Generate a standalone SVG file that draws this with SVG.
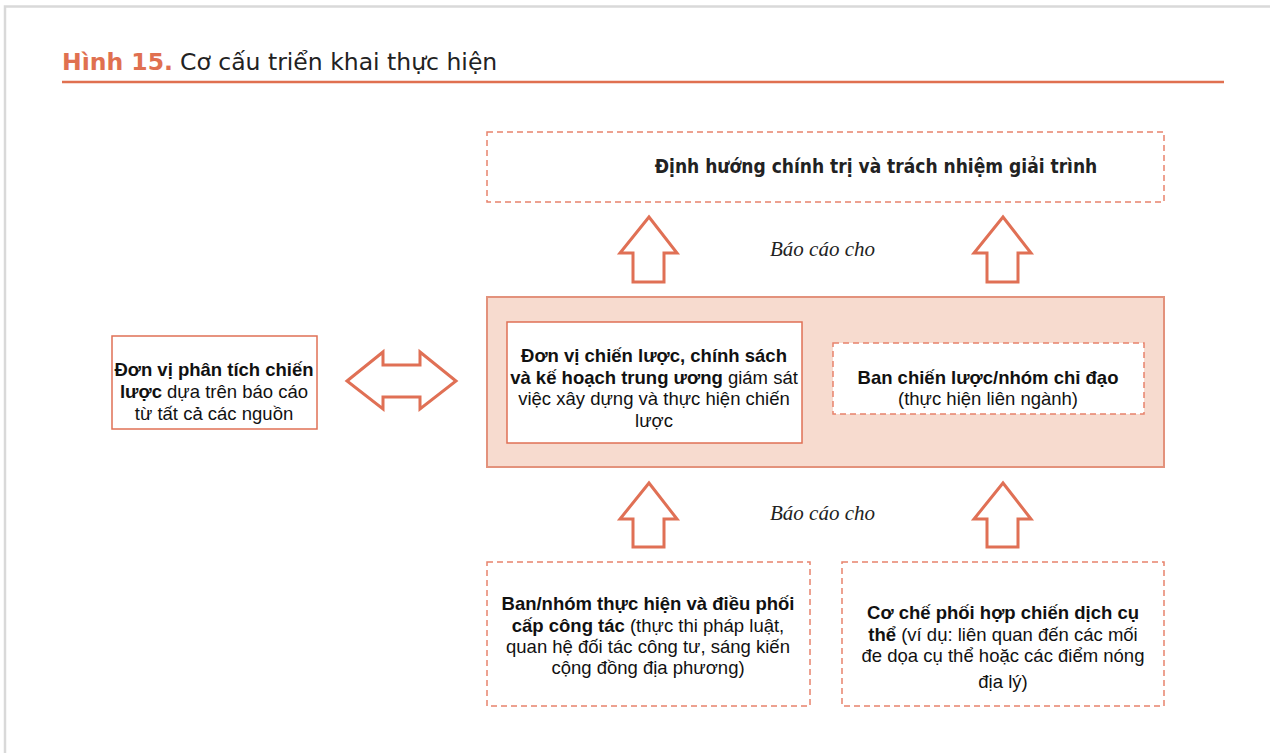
<svg xmlns="http://www.w3.org/2000/svg" width="1270" height="753" viewBox="0 0 1270 753">
  <style>
    .page { fill: #ffffff; }
    .frame { fill: none; stroke: #d9d9d9; stroke-width: 2.5; }
    .title-num { font-family: "DejaVu Sans", Verdana, sans-serif; font-weight: bold; font-size: 23.5px; fill: #e07050; }
    .title-txt { font-family: "DejaVu Sans", Verdana, sans-serif; font-size: 23.5px; fill: #222222; }
    .rule { stroke: #e07050; stroke-width: 2.5; }
    .dashed { fill: #ffffff; stroke: #e8836c; stroke-width: 1.5; stroke-dasharray: 6 4; }
    .solid { fill: #ffffff; stroke: #e07055; stroke-width: 1.5; }
    .hub { fill: #f7dbcf; stroke: #e3927c; stroke-width: 2; }
    .arrow { fill: #ffffff; stroke: #e07055; stroke-width: 3; stroke-linejoin: miter; }
    .head { font-family: "DejaVu Sans Condensed", "DejaVu Sans", Verdana, sans-serif; font-stretch: condensed; font-weight: bold; font-size: 19px; fill: #222222; text-anchor: middle; }
    .body { font-family: "Liberation Sans", Arial, sans-serif; font-size: 18.5px; fill: #111111; text-anchor: middle; }
    .b { font-weight: bold; }
    .note { font-family: "Liberation Serif", "Times New Roman", serif; font-style: italic; font-size: 21px; fill: #222222; }
  </style>

  <rect class="page" x="0" y="0" width="1270" height="753"/>
  <!-- page frame: top and left edges only -->
  <path class="frame" d="M5 753 V6.5 H1270"/>

  <!-- heading -->
  <g id="heading">
    <text x="62" y="70"><tspan class="title-num">Hình 15.</tspan><tspan class="title-txt" dx="7">Cơ cấu triển khai thực hiện</tspan></text>
    <line class="rule" x1="62" y1="82" x2="1224" y2="82"/>
  </g>

  <!-- connectors -->
  <g id="connectors">
    <!-- hub -> top box -->
    <path class="arrow" d="M649 217 L677 253 L664 253 L664 282 L633 282 L633 253 L620 253 Z"/>
    <path class="arrow" d="M1003 217 L1031 253 L1018 253 L1018 282 L987 282 L987 253 L974 253 Z"/>
    <!-- bottom boxes -> hub -->
    <path class="arrow" d="M649 483 L677 519 L664 519 L664 547 L633 547 L633 519 L620 519 Z"/>
    <path class="arrow" d="M1003 483 L1031 519 L1018 519 L1018 547 L987 547 L987 519 L974 519 Z"/>
    <!-- analysis unit <-> hub -->
    <path class="arrow" d="M347 381 L383 352 L383 365 L420 365 L420 352 L456 381 L420 409 L420 397 L383 397 L383 409 Z"/>
    <text class="note" x="770" y="256">Báo cáo cho</text>
    <text class="note" x="770" y="520">Báo cáo cho</text>
  </g>

  <!-- top: political direction -->
  <g id="oversight">
    <rect class="dashed" x="487" y="132" width="677" height="70"/>
    <text class="head" x="876" y="173">Định hướng chính trị và trách nhiệm giải trình</text>
  </g>

  <!-- central hub -->
  <g id="hub">
    <rect class="hub" x="487" y="297" width="677" height="170"/>
  </g>

  <g id="central-unit">
    <rect class="solid" x="507" y="322" width="295" height="121"/>
    <text class="body" x="654" y="362"><tspan class="b">Đơn vị chiến lược, chính sách</tspan></text>
    <text class="body" x="654" y="384"><tspan class="b">và kế hoạch trung ương</tspan> giám sát</text>
    <text class="body" x="654" y="405">việc xây dựng và thực hiện chiến</text>
    <text class="body" x="654" y="427">lược</text>
  </g>

  <g id="steering-group">
    <rect class="dashed" x="833" y="343" width="311" height="71"/>
    <text class="body" x="988" y="384"><tspan class="b">Ban chiến lược/nhóm chỉ đạo</tspan></text>
    <text class="body" x="988" y="405">(thực hiện liên ngành)</text>
  </g>

  <!-- left: analysis unit -->
  <g id="analysis-unit">
    <rect class="solid" x="112" y="336" width="205" height="93"/>
    <text class="body" x="214" y="376"><tspan class="b">Đơn vị phân tích chiến</tspan></text>
    <text class="body" x="214" y="398"><tspan class="b">lược</tspan> dựa trên báo cáo</text>
    <text class="body" x="214" y="420">từ tất cả các nguồn</text>
  </g>

  <!-- bottom: operational teams -->
  <g id="operational-teams">
    <rect class="dashed" x="487" y="562" width="323" height="144"/>
    <text class="body" x="648" y="610"><tspan class="b">Ban/nhóm thực hiện và điều phối</tspan></text>
    <text class="body" x="648" y="632"><tspan class="b">cấp công tác</tspan> (thực thi pháp luật,</text>
    <text class="body" x="648" y="653">quan hệ đối tác công tư, sáng kiến</text>
    <text class="body" x="648" y="674">cộng đồng địa phương)</text>
  </g>

  <g id="campaign-mechanism">
    <rect class="dashed" x="842" y="562" width="322" height="144"/>
    <text class="body" x="1003" y="619"><tspan class="b">Cơ chế phối hợp chiến dịch cụ</tspan></text>
    <text class="body" x="1003" y="641"><tspan class="b">thể</tspan> (ví dụ: liên quan đến các mối</text>
    <text class="body" x="1003" y="662">đe dọa cụ thể hoặc các điểm nóng</text>
    <text class="body" x="1003" y="688">địa lý)</text>
  </g>
</svg>
